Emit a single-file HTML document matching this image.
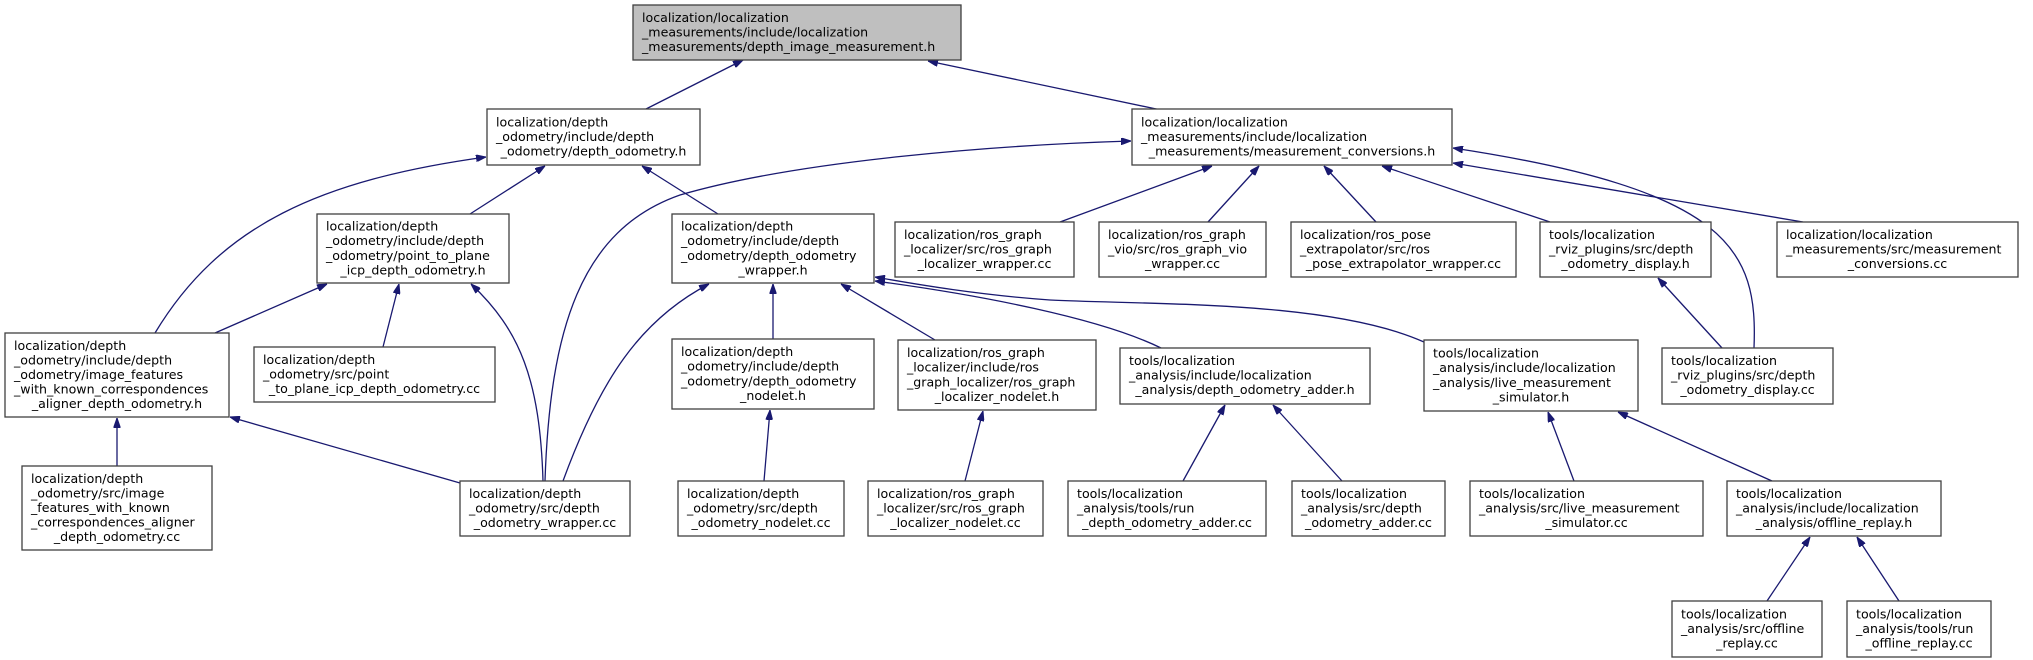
<!DOCTYPE html>
<html><head><meta charset="utf-8"><style>
html,body{margin:0;padding:0;background:#fff;}
svg{display:block;}
text{font-family:"DejaVu Sans","Liberation Sans",sans-serif;font-size:12.6px;fill:#000;}
.n{fill:#fff;stroke:#404040;stroke-width:1.3;}
.r{fill:#bfbfbf;stroke:#404040;stroke-width:1.3;}
.e{fill:none;stroke:#191970;stroke-width:1.3;marker-end:url(#a);}
.c{text-anchor:middle;}
</style></head><body>
<svg width="2033" height="660" viewBox="0 0 2033 660" xmlns="http://www.w3.org/2000/svg">
<defs><marker id="a" viewBox="0 0 10 7" refX="10" refY="3.5" markerWidth="10" markerHeight="7" markerUnits="userSpaceOnUse" orient="auto"><path d="M0,0 L10,3.5 L0,7 z" fill="#191970" stroke="#191970"/></marker></defs>

<!-- edges -->
<path class="e" d="M646,109 L743,60"/>
<path class="e" d="M1161,110 L928,61"/>
<path class="e" d="M155,333 C 220,225 320,180 486,157"/>
<path class="e" d="M470,214 L545,166"/>
<path class="e" d="M718,214 L642,166"/>
<path class="e" d="M545,481 C 550,330 580,230 680,195 C 800,160 1000,145 1131,141"/>
<path class="e" d="M543,481 C 540,380 520,330 471,284"/>
<path class="e" d="M563,481 C 600,380 640,320 709,284"/>
<path class="e" d="M215,333 L327,284"/>
<path class="e" d="M383,347 L399,284"/>
<path class="e" d="M460,483 L230,417"/>
<path class="e" d="M117,466 L117,418"/>
<path class="e" d="M773,339 L773,284"/>
<path class="e" d="M764,481 L770,410"/>
<path class="e" d="M935,340 L841,284"/>
<path class="e" d="M1161,348 C 1100,318 980,295 875,281"/>
<path class="e" d="M1424,342 C 1330,300 1150,305 1050,300 C 980,295 920,285 875,277"/>
<path class="e" d="M1060,222 L1212,166"/>
<path class="e" d="M1208,222 L1259,166"/>
<path class="e" d="M1376,222 L1324,166"/>
<path class="e" d="M1550,222 L1382,166"/>
<path class="e" d="M1803,222 L1453,163"/>
<path class="e" d="M1754,348 C 1758,250 1730,190 1453,148"/>
<path class="e" d="M1722,348 L1658,278"/>
<path class="e" d="M965,481 L983,411"/>
<path class="e" d="M1183,481 L1225,405"/>
<path class="e" d="M1342,481 L1273,405"/>
<path class="e" d="M1574,481 L1548,412"/>
<path class="e" d="M1772,481 L1618,412"/>
<path class="e" d="M1767,601 L1810,537"/>
<path class="e" d="M1899,601 L1857,537"/>

<!-- nodes -->
<rect class="r" x="633" y="5" width="328" height="55"/>
<text x="642" y="22">localization/localization</text><text x="642" y="36.6">_measurements/include/localization</text><text x="642" y="51.2">_measurements/depth_image_measurement.h</text>

<rect class="n" x="487" y="109" width="213" height="56"/>
<text x="496" y="126.4">localization/depth</text><text x="496" y="141">_odometry/include/depth</text><text class="c" x="593.5" y="155.6">_odometry/depth_odometry.h</text>

<rect class="n" x="1132" y="109" width="320" height="56"/>
<text x="1141" y="126.4">localization/localization</text><text x="1141" y="141">_measurements/include/localization</text><text class="c" x="1292" y="155.6">_measurements/measurement_conversions.h</text>

<rect class="n" x="317" y="214" width="192" height="69"/>
<text x="326" y="230.6">localization/depth</text><text x="326" y="245.2">_odometry/include/depth</text><text x="326" y="259.8">_odometry/point_to_plane</text><text class="c" x="413" y="274.4">_icp_depth_odometry.h</text>

<rect class="n" x="672" y="214" width="202" height="69"/>
<text x="681" y="230.6">localization/depth</text><text x="681" y="245.2">_odometry/include/depth</text><text x="681" y="259.8">_odometry/depth_odometry</text><text class="c" x="773" y="274.4">_wrapper.h</text>

<rect class="n" x="895" y="222" width="179" height="55"/>
<text x="904" y="238.9">localization/ros_graph</text><text x="904" y="253.5">_localizer/src/ros_graph</text><text class="c" x="984.5" y="268.1">_localizer_wrapper.cc</text>

<rect class="n" x="1099" y="222" width="167" height="55"/>
<text x="1108" y="238.9">localization/ros_graph</text><text x="1108" y="253.5">_vio/src/ros_graph_vio</text><text class="c" x="1182.5" y="268.1">_wrapper.cc</text>

<rect class="n" x="1291" y="222" width="225" height="55"/>
<text x="1300" y="238.9">localization/ros_pose</text><text x="1300" y="253.5">_extrapolator/src/ros</text><text class="c" x="1403.5" y="268.1">_pose_extrapolator_wrapper.cc</text>

<rect class="n" x="1540" y="222" width="171" height="55"/>
<text x="1549" y="238.9">tools/localization</text><text x="1549" y="253.5">_rviz_plugins/src/depth</text><text class="c" x="1625.5" y="268.1">_odometry_display.h</text>

<rect class="n" x="1777" y="222" width="241" height="55"/>
<text x="1786" y="238.9">localization/localization</text><text x="1786" y="253.5">_measurements/src/measurement</text><text class="c" x="1897.5" y="268.1">_conversions.cc</text>

<rect class="n" x="5" y="333" width="224" height="84"/>
<text x="14" y="349.8">localization/depth</text><text x="14" y="364.4">_odometry/include/depth</text><text x="14" y="379">_odometry/image_features</text><text x="14" y="393.6">_with_known_correspondences</text><text class="c" x="117" y="408.2">_aligner_depth_odometry.h</text>

<rect class="n" x="254" y="347" width="241" height="55"/>
<text x="263" y="363.9">localization/depth</text><text x="263" y="378.5">_odometry/src/point</text><text class="c" x="374.5" y="393.1">_to_plane_icp_depth_odometry.cc</text>

<rect class="n" x="672" y="339" width="202" height="70"/>
<text x="681" y="356.1">localization/depth</text><text x="681" y="370.7">_odometry/include/depth</text><text x="681" y="385.3">_odometry/depth_odometry</text><text class="c" x="773" y="399.9">_nodelet.h</text>

<rect class="n" x="898" y="340" width="198" height="70"/>
<text x="907" y="357.1">localization/ros_graph</text><text x="907" y="371.7">_localizer/include/ros</text><text x="907" y="386.3">_graph_localizer/ros_graph</text><text class="c" x="997" y="400.9">_localizer_nodelet.h</text>

<rect class="n" x="1120" y="348" width="250" height="56"/>
<text x="1129" y="364.9">tools/localization</text><text x="1129" y="379.5">_analysis/include/localization</text><text class="c" x="1245" y="394.1">_analysis/depth_odometry_adder.h</text>

<rect class="n" x="1424" y="340" width="214" height="71"/>
<text x="1433" y="357.6">tools/localization</text><text x="1433" y="372.2">_analysis/include/localization</text><text x="1433" y="386.8">_analysis/live_measurement</text><text class="c" x="1531" y="401.4">_simulator.h</text>

<rect class="n" x="1662" y="348" width="171" height="56"/>
<text x="1671" y="364.9">tools/localization</text><text x="1671" y="379.5">_rviz_plugins/src/depth</text><text class="c" x="1747.5" y="394.1">_odometry_display.cc</text>

<rect class="n" x="22" y="466" width="190" height="84"/>
<text x="31" y="482.8">localization/depth</text><text x="31" y="497.4">_odometry/src/image</text><text x="31" y="512">_features_with_known</text><text x="31" y="526.6">_correspondences_aligner</text><text class="c" x="117" y="541.2">_depth_odometry.cc</text>

<rect class="n" x="460" y="481" width="170" height="55"/>
<text x="469" y="497.9">localization/depth</text><text x="469" y="512.5">_odometry/src/depth</text><text class="c" x="545" y="527.1">_odometry_wrapper.cc</text>

<rect class="n" x="678" y="481" width="166" height="55"/>
<text x="687" y="497.9">localization/depth</text><text x="687" y="512.5">_odometry/src/depth</text><text class="c" x="761" y="527.1">_odometry_nodelet.cc</text>

<rect class="n" x="868" y="481" width="175" height="55"/>
<text x="877" y="497.9">localization/ros_graph</text><text x="877" y="512.5">_localizer/src/ros_graph</text><text class="c" x="955.5" y="527.1">_localizer_nodelet.cc</text>

<rect class="n" x="1068" y="481" width="198" height="55"/>
<text x="1077" y="497.9">tools/localization</text><text x="1077" y="512.5">_analysis/tools/run</text><text class="c" x="1167" y="527.1">_depth_odometry_adder.cc</text>

<rect class="n" x="1292" y="481" width="153" height="55"/>
<text x="1301" y="497.9">tools/localization</text><text x="1301" y="512.5">_analysis/src/depth</text><text class="c" x="1368.5" y="527.1">_odometry_adder.cc</text>

<rect class="n" x="1470" y="481" width="233" height="55"/>
<text x="1479" y="497.9">tools/localization</text><text x="1479" y="512.5">_analysis/src/live_measurement</text><text class="c" x="1586.5" y="527.1">_simulator.cc</text>

<rect class="n" x="1727" y="481" width="214" height="55"/>
<text x="1736" y="497.9">tools/localization</text><text x="1736" y="512.5">_analysis/include/localization</text><text class="c" x="1834" y="527.1">_analysis/offline_replay.h</text>

<rect class="n" x="1672" y="601" width="150" height="56"/>
<text x="1681" y="618.4">tools/localization</text><text x="1681" y="633">_analysis/src/offline</text><text class="c" x="1747" y="647.6">_replay.cc</text>

<rect class="n" x="1847" y="601" width="144" height="56"/>
<text x="1856" y="618.4">tools/localization</text><text x="1856" y="633">_analysis/tools/run</text><text class="c" x="1919" y="647.6">_offline_replay.cc</text>
</svg>
</body></html>
